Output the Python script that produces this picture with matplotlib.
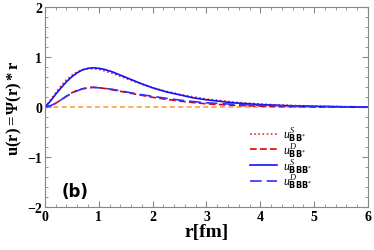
import matplotlib

matplotlib.use("Agg")

import matplotlib.pyplot as plt
from matplotlib.ticker import MultipleLocator

r = [0.0, 0.1, 0.2, 0.3, 0.4, 0.5, 0.6, 0.7, 0.8, 0.9, 1.0, 1.1, 1.25, 1.5, 1.75,
     2.0, 2.25, 2.5, 2.75, 3.0, 3.5, 4.0, 4.5, 5.0, 5.5, 6.0]
u_s_bb = [0.0, 0.14, 0.29, 0.43, 0.55, 0.64, 0.71, 0.75, 0.77, 0.77, 0.76, 0.73, 0.68,
          0.58, 0.48, 0.39, 0.32, 0.26, 0.21, 0.165, 0.105, 0.065, 0.04, 0.025, 0.015, 0.008]
u_d_bb = [0.0, 0.03, 0.08, 0.15, 0.22, 0.29, 0.34, 0.37, 0.39, 0.40, 0.39, 0.38, 0.35,
          0.30, 0.25, 0.20, 0.16, 0.125, 0.095, 0.07, 0.04, 0.022, 0.012, 0.006, 0.003, 0.001]
u_s_bbb = [0.0, 0.12, 0.26, 0.39, 0.51, 0.61, 0.69, 0.75, 0.78, 0.79, 0.78, 0.76, 0.71,
           0.60, 0.49, 0.39, 0.31, 0.25, 0.19, 0.15, 0.09, 0.055, 0.033, 0.02, 0.011, 0.005]
u_d_bbb = [0.0, 0.03, 0.08, 0.15, 0.22, 0.28, 0.33, 0.37, 0.39, 0.40, 0.39, 0.38, 0.36,
           0.31, 0.26, 0.22, 0.18, 0.145, 0.115, 0.09, 0.06, 0.04, 0.027, 0.017, 0.01, 0.005]
zero_line = [0.0] * len(r)

plt.rcParams["font.family"] = ["Liberation Serif", "DejaVu Serif"]
plt.rcParams["mathtext.fontset"] = "custom"
plt.rcParams["mathtext.rm"] = "Liberation Serif"
plt.rcParams["mathtext.it"] = "Liberation Serif:italic"
plt.rcParams["mathtext.bf"] = "Liberation Serif:bold"
plt.rcParams["mathtext.sf"] = "DejaVu Sans:bold"

fig = plt.figure(figsize=(3.74, 2.51), dpi=100)
ax = fig.add_axes([0.12, 0.17, 0.864, 0.797])

ax.plot(r, zero_line, color="#ffa040", linestyle=(0, (3, 2)), linewidth=1.2)
ax.plot(r, u_s_bb, color="#ff2020", linestyle=(0, (1, 1.5)), linewidth=1.2,
        label=r"$u^{S}_{\mathsf{BB}^{*}}$")
ax.plot(r, u_d_bb, color="#e00000", linestyle=(0, (4, 2)), linewidth=1.2,
        label=r"$u^{D}_{\mathsf{BB}^{*}}$")
ax.plot(r, u_s_bbb, color="#1010ff", linestyle="-", linewidth=1.2,
        label=r"$u^{S}_{\mathsf{BBB}^{*}}$")
ax.plot(r, u_d_bbb, color="#3030ff", linestyle=(0, (7, 3)), linewidth=1.2,
        label=r"$u^{D}_{\mathsf{BBB}^{*}}$")

ax.set_xlim(0, 6)
ax.set_ylim(-2, 2)
ax.xaxis.set_major_locator(MultipleLocator(1))
ax.xaxis.set_minor_locator(MultipleLocator(0.2))
ax.yaxis.set_major_locator(MultipleLocator(1))
ax.yaxis.set_minor_locator(MultipleLocator(0.2))
ax.tick_params(which="both", direction="in", top=True, right=True, color="#888888")
ax.tick_params(which="major", length=4, labelsize=10, pad=2)
ax.tick_params(which="minor", length=2)
for lab in ax.get_xticklabels() + ax.get_yticklabels():
    lab.set_fontweight("bold")
for s in ax.spines.values():
    s.set_color("#888888")
    s.set_linewidth(0.8)

ax.set_xlabel("r[fm]", fontsize=14, fontweight="bold", labelpad=0)
ax.set_ylabel(r"$\mathbf{u(r)=\Psi(r)*r}$", fontsize=12, labelpad=2)

ax.text(0.56, -1.68, "(b)", fontsize=12, fontweight="bold", ha="center", va="center",
        family=["DejaVu Sans"])

ax.legend(loc="upper left", bbox_to_anchor=(0.635, 0.415), frameon=False, fontsize=8.5,
          handlelength=2.3, labelspacing=-0.25, handletextpad=0.5, borderaxespad=0,
          borderpad=0)

fig.savefig("out.png", dpi=100)
